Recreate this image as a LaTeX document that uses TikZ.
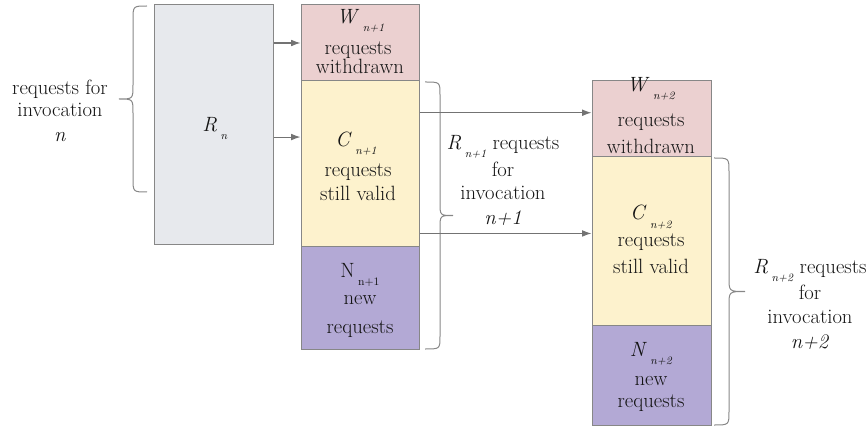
\documentclass[tikz,border=0pt]{standalone}
\usetikzlibrary{arrows.meta,calc}

\definecolor{rnfill}{HTML}{E7E9ED}
\definecolor{wfill}{HTML}{EBD0D0}
\definecolor{cfill}{HTML}{FDF2CD}
\definecolor{nfill}{HTML}{B3A9D5}
\definecolor{edge}{HTML}{878787}
\definecolor{ink}{HTML}{141414}

% subscript set low and small
\newcommand\lowsub[1]{\,\raisebox{-6pt}{\fontsize{8.5}{9}\selectfont #1}}

% curly brace: end x, spine x, tip x, top y, bottom y, bend radius
\newcommand\curlybrace[6]{%
  \draw[bracestyle] (#1,#4) .. controls (#2,#4) .. (#2,{#4+#6})
    -- (#2,{(#4+#5)/2-#6}) .. controls (#2,{(#4+#5)/2}) .. (#3,{(#4+#5)/2})
    .. controls (#2,{(#4+#5)/2}) .. (#2,{(#4+#5)/2+#6})
    -- (#2,{#5-#6}) .. controls (#2,#5) .. (#1,#5);}

\begin{document}
\begin{tikzpicture}[x=0.75pt,y=-0.75pt,
  every node/.style={font=\fontsize{15.5}{18}\selectfont, text=ink},
  box/.style={draw=edge, line width=0.75pt, inner sep=0pt},
  txt/.style={anchor=base, inner sep=0pt},
  arr/.style={draw=edge!85!black, line width=0.8pt, -{Latex[length=7pt,width=5pt]}},
  bracestyle/.style={draw=edge, line width=0.75pt}]

\useasboundingbox (0,0) rectangle (868,431);

% ---- boxes ----
\node[box, fill=rnfill, minimum width=119*0.75pt, minimum height=240*0.75pt] (Rn) at (213.5,125) {};

\node[box, fill=wfill, minimum width=118*0.75pt, minimum height=76*0.75pt]  (W1) at (360,43) {};
\node[box, fill=cfill, minimum width=118*0.75pt, minimum height=166*0.75pt] (C1) at (360,164) {};
\node[box, fill=nfill, minimum width=118*0.75pt, minimum height=102*0.75pt] (N1) at (360,298) {};

\node[box, fill=wfill, minimum width=119*0.75pt, minimum height=76*0.75pt]  (W2) at (651.5,119) {};
\node[box, fill=cfill, minimum width=119*0.75pt, minimum height=168*0.75pt] (C2) at (651.5,241) {};
\node[box, fill=nfill, minimum width=119*0.75pt, minimum height=100*0.75pt] (N2) at (651.5,375) {};

% ---- box texts ----
\node[txt] (Rn-a) at (215,132) {\textit{R}\lowsub{\textit{n}}};

\node[txt] (W1-a) at (360.5,24) {\textit{W}\lowsub{\textit{n+1}}};
\node[txt] (W1-b) at (358,55)   {requests};
\node[txt] (W1-c) at (360,74)   {withdrawn};

\node[txt] (C1-a) at (356,147) {\textit{C}\lowsub{\textit{n+1}}};
\node[txt] (C1-b) at (358,177) {requests};
\node[txt] (C1-c) at (358,201) {still valid};

\node[txt] (N1-a) at (360,277) {N\lowsub{n+1}};
\node[txt] (N1-b) at (360,305) {new};
\node[txt] (N1-c) at (360,333) {requests};

\node[txt] (W2-a) at (651,92)  {\textit{W}\lowsub{\textit{n+2}}};
\node[txt] (W2-b) at (651,127) {requests};
\node[txt] (W2-c) at (651,154) {withdrawn};

\node[txt] (C2-a) at (651,220) {\textit{C}\lowsub{\textit{n+2}}};
\node[txt] (C2-b) at (651,247) {requests};
\node[txt] (C2-c) at (651,273) {still valid};

\node[txt] (N2-a) at (651,356) {\textit{N}\lowsub{\textit{n+2}}};
\node[txt] (N2-b) at (651,385) {new};
\node[txt] (N2-c) at (651,407) {requests};

% ---- brace captions ----
\node[txt] (Ln-a) at (60,95)  {requests for};
\node[txt] (Ln-b) at (60,117) {invocation};
\node[txt] (Ln-c) at (60,142) {\textit{n}};

\node[txt] (Ln1-a) at (503,150) {\textit{R}\lowsub{\textit{n+1}} requests};
\node[txt] (Ln1-b) at (503,177) {for};
\node[txt] (Ln1-c) at (503,200) {invocation};
\node[txt] (Ln1-d) at (503,225) {\textit{n+1}};

\node[txt] (Ln2-a) at (810,273) {\textit{R}\lowsub{\textit{n+2}} requests};
\node[txt] (Ln2-b) at (810,300) {for};
\node[txt] (Ln2-c) at (810,323) {invocation};
\node[txt] (Ln2-d) at (810,348) {\textit{n+2}};

% ---- braces ----
\curlybrace{147}{133}{119}{6}{192}{14}
\curlybrace{425}{440}{453}{82}{349}{13}
\curlybrace{714}{729}{745}{158}{425}{14}

% ---- flow arrows ----
\coordinate (a1) at ($(Rn.north east)!0.55!(Rn.south east)$);
\coordinate (a2) at ($(C1.north east)!0.193!(C1.south east)$);
\coordinate (a3) at ($(C1.north east)!0.916!(C1.south east)$);
\draw[arr] (Rn.east |- W1.west) -- (W1.west);
\draw[arr] (a1) -- (a1 -| C1.west);
\draw[arr] (a2) -- (a2 -| W2.west);
\draw[arr] (a3) -- (a3 -| C2.west);

\end{tikzpicture}
\end{document}
